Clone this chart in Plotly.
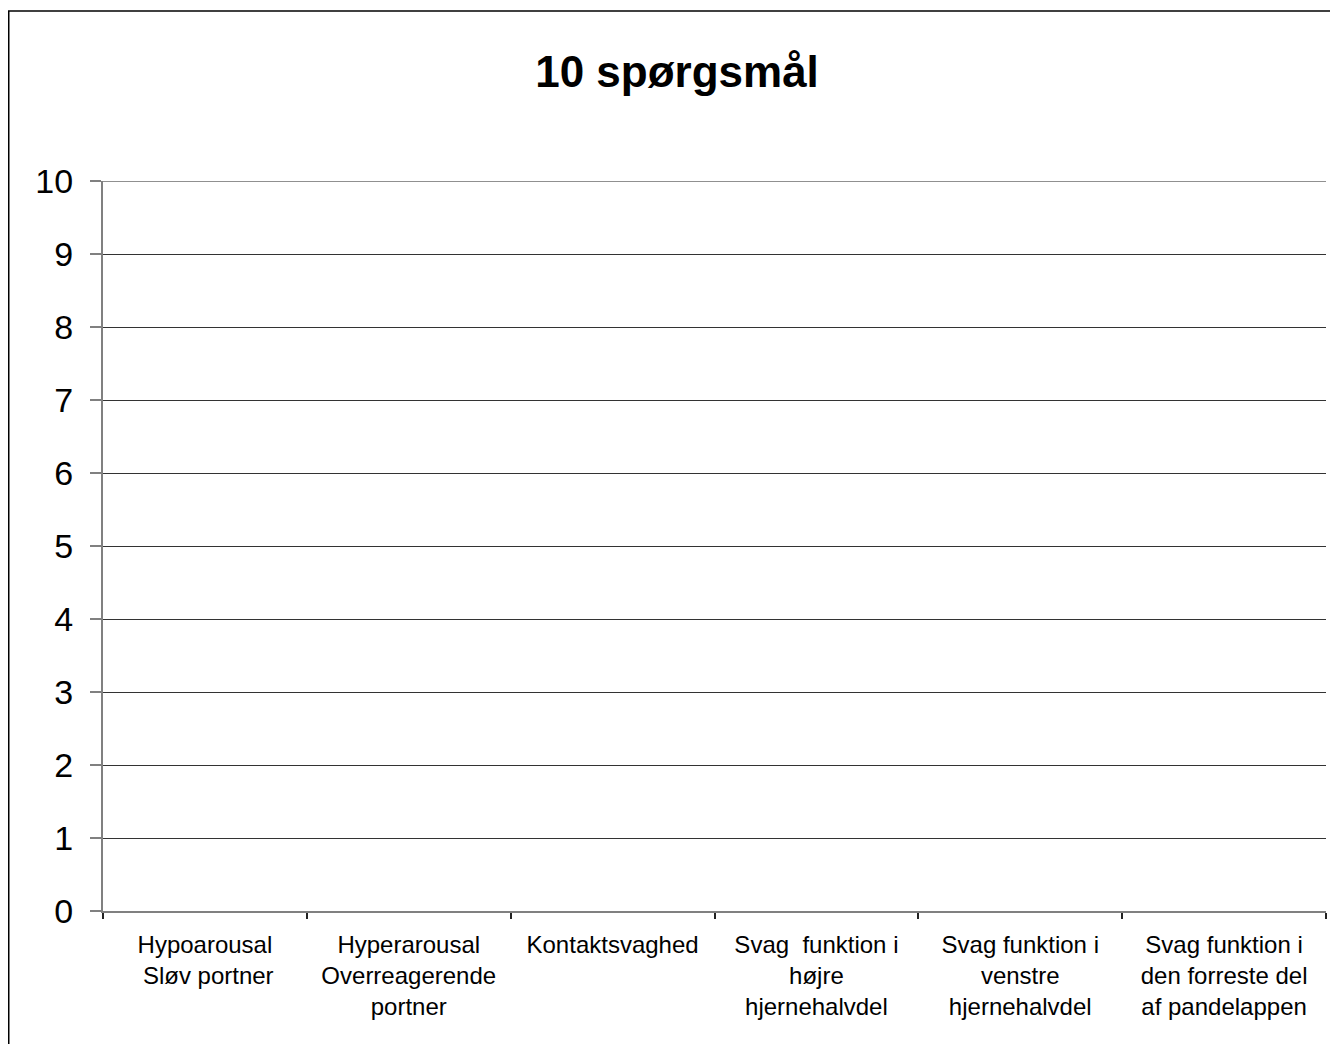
import plotly.graph_objects as go

title_text = "10 spørgsmål"
categories = [
    "Hypoarousal<br> Sløv portner",
    "Hyperarousal<br>Overreagerende<br>portner",
    "Kontaktsvaghed",
    "Svag\u00a0 funktion i<br>højre<br>hjernehalvdel",
    "Svag funktion i<br>venstre<br>hjernehalvdel",
    "Svag funktion i<br>den forreste del<br>af pandelappen",
]
values = [0, 0, 0, 0, 0, 0]
y_ticks = list(range(0, 11))

# page body adds an 8px offset; positions below are in figure coordinates
W, H = 1338, 1044
L, R, T, B = 95, 20, 173, 141
pw, ph = W - L - R, H - T - B

def px_x(p):
    return (p - L) / pw

def px_y(p):
    return 1 - (p - T) / ph

fig = go.Figure(
    go.Bar(x=categories, y=values, marker=dict(color="#9999ff", line=dict(width=0)),
           hoverinfo="skip")
)

fig.update_layout(
    width=W, height=H,
    margin=dict(l=L, r=R, t=T, b=B),
    paper_bgcolor="white", plot_bgcolor="white",
    font=dict(family="Liberation Sans, Arial, sans-serif", color="black"),
    title=dict(text="<b>" + title_text + "</b>", x=0.5, xanchor="center",
               y=1 - 64 / H, yanchor="middle", font=dict(size=44, color="black")),
    showlegend=False,
    bargap=0.5,
)

fig.update_xaxes(
    type="category", tickson="boundaries", ticks="outside", ticklen=6,
    tickcolor="#222222", tickwidth=1.5,
    showline=True, linecolor="#808080", linewidth=2,
    showgrid=False, tickfont=dict(size=24, color="black"),
    ticklabelstandoff=11,
)
fig.update_yaxes(
    range=[0, 10], tickvals=y_ticks, ticks="outside", ticklen=11,
    tickcolor="#808080", tickwidth=2,
    showline=True, linecolor="#808080", linewidth=2,
    showgrid=True, gridcolor="#333333", gridwidth=1, zeroline=False,
    tickfont=dict(size=34, color="black"), ticklabelstandoff=10,
)

# top gridline at the maximum of the value axis
fig.add_shape(type="line", xref="paper", yref="y", x0=0, x1=1, y0=10, y1=10,
              line=dict(color="#222222", width=1.2))

# figure border (left and top visible)
fig.add_shape(type="line", xref="paper", yref="paper",
              x0=px_x(0.75), x1=px_x(0.75), y0=px_y(3), y1=px_y(H + 10),
              line=dict(color="black", width=1.5))
fig.add_shape(type="line", xref="paper", yref="paper",
              x0=px_x(0), x1=px_x(W + 10), y0=px_y(3), y1=px_y(3),
              line=dict(color="black", width=1.5))

fig.write_html("out.html")
